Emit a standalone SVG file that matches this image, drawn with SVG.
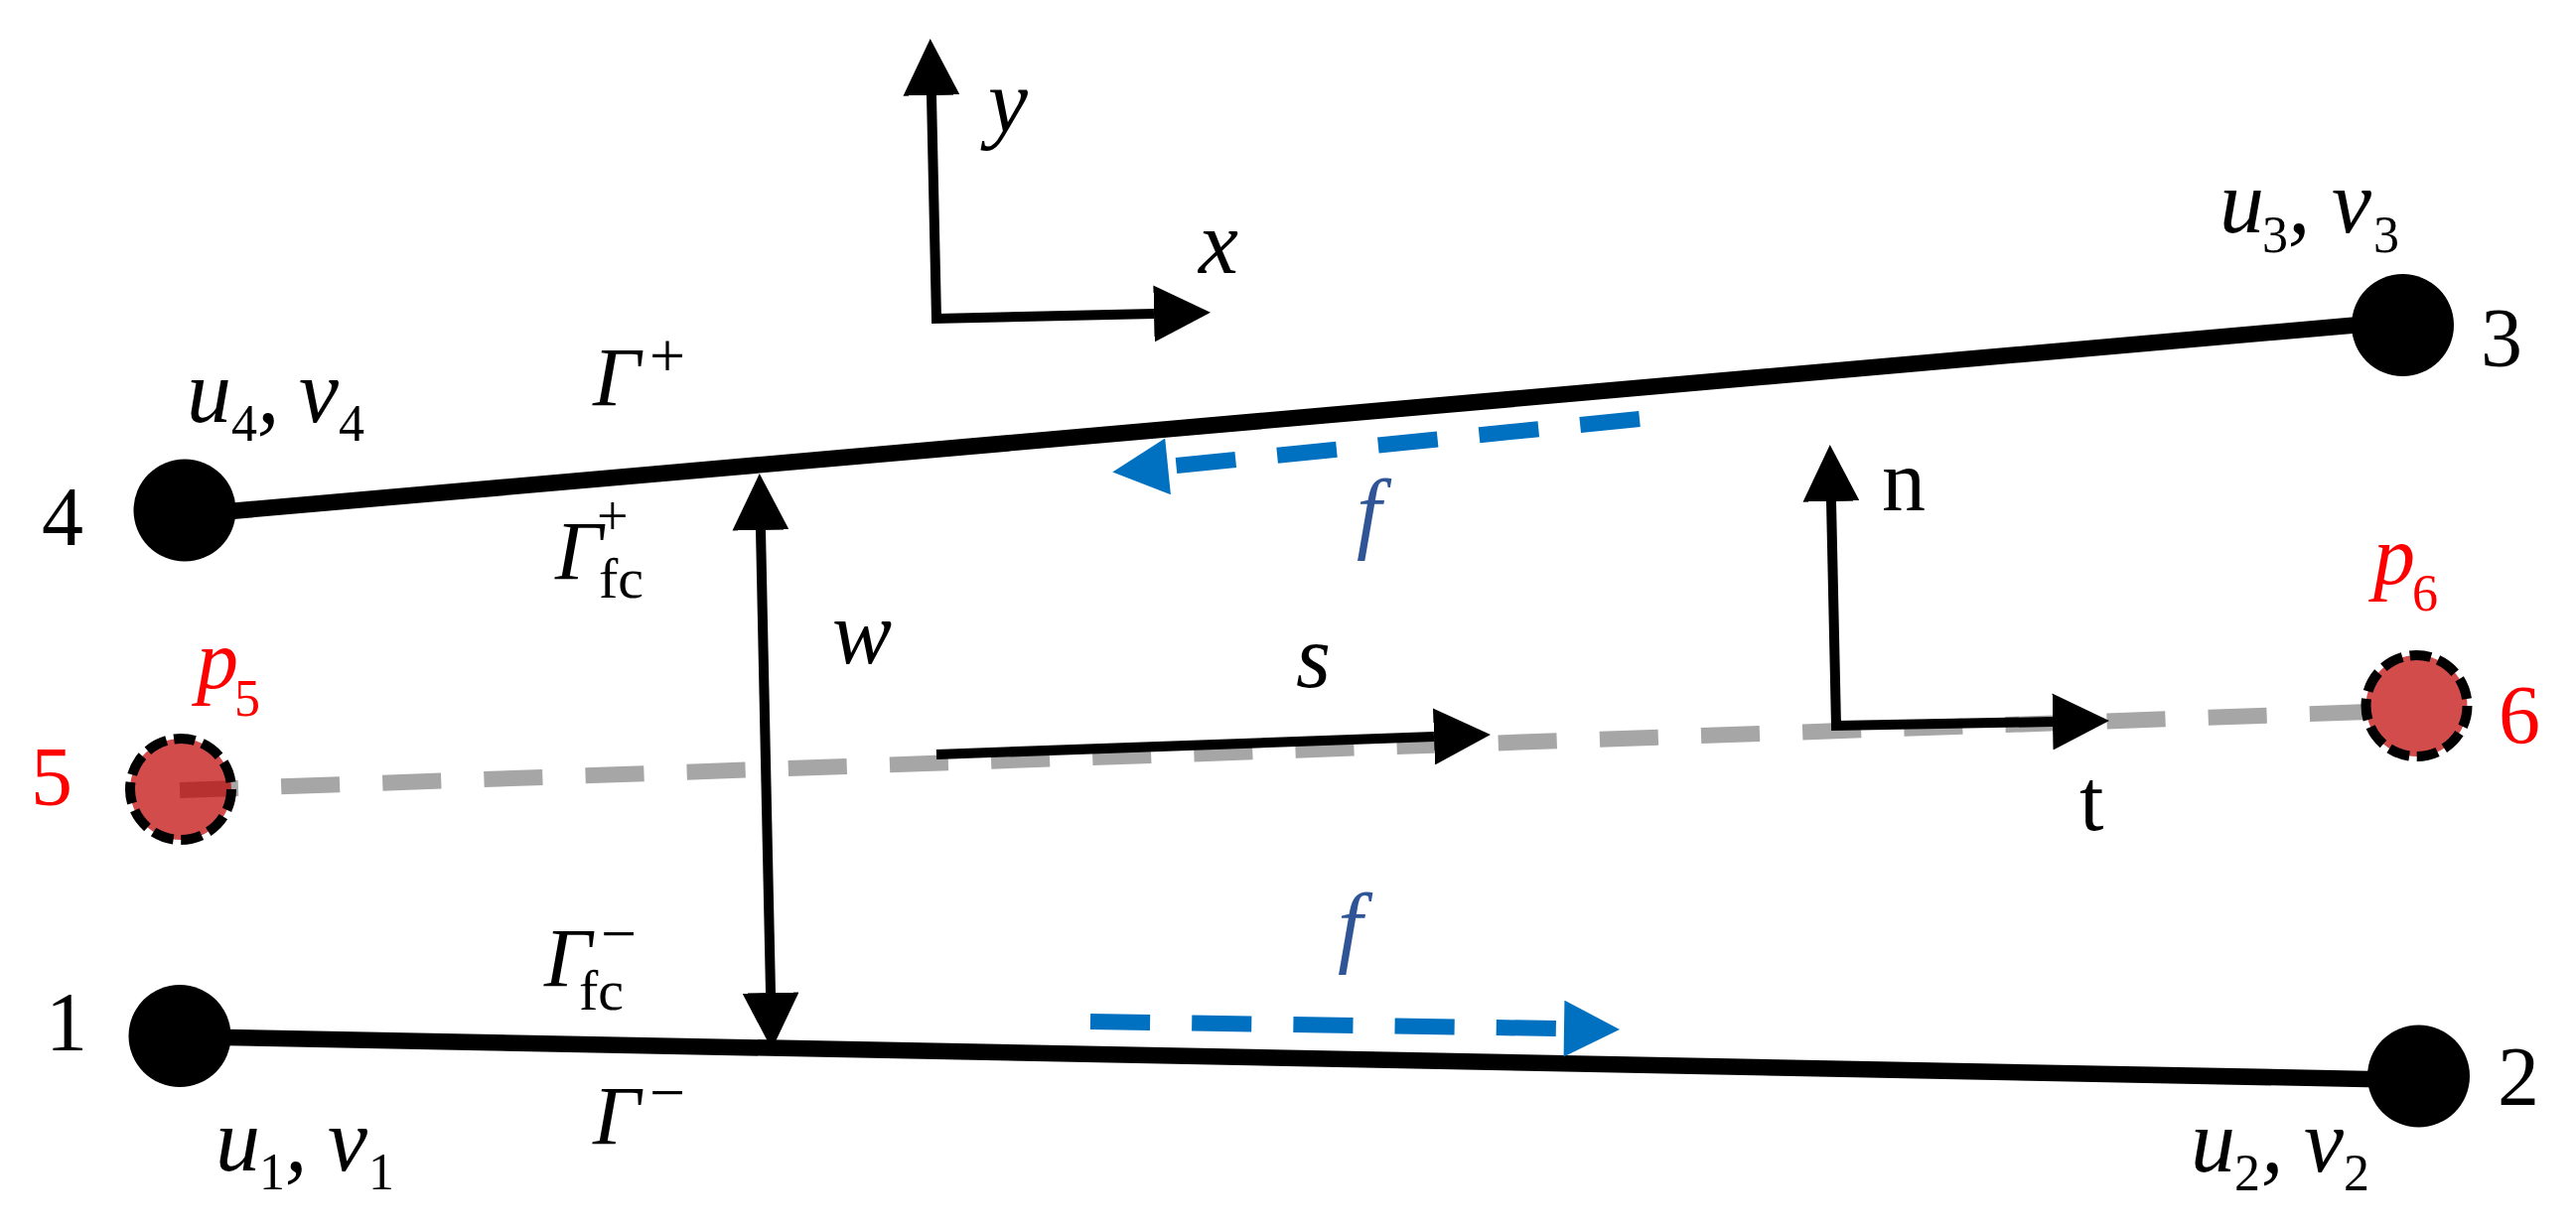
<svg xmlns="http://www.w3.org/2000/svg" width="2594" height="1240" viewBox="0 0 2594 1240">
<style>
text{font-family:"Liberation Serif","Times New Roman",serif;fill:#000}
.num{font-size:84px}
.num2{font-size:88px}
.it{font-size:90px;font-style:italic}
.pp{font-size:84px;font-style:italic}
.gam{font-size:84px;font-style:italic}
.sub{font-size:52px}
.fc{font-size:58px}
.op{font-size:64px}
.op2{font-size:56px}
.red,.red text{fill:#f00}
.blue{fill:#2f5597}
.wire{fill:none;stroke:#000}
.edge{stroke-width:16.5}
.arr{stroke-width:10;stroke-linejoin:miter;marker-end:url(#bh);marker-start:url(#bh)}
.one{marker-start:none}
.grey{fill:none;stroke:#a6a6a6;stroke-width:16;stroke-dasharray:59 43.2}
.flow{fill:none;stroke:#0070c0;stroke-width:16;stroke-dasharray:60.1 42.1;marker-end:url(#fh)}
.dot{fill:#000}
.mid{fill:#c00000;fill-opacity:.7;stroke:#000;stroke-width:10;stroke-dasharray:21.5 7.63}
</style>
<defs>
<marker id="bh" markerUnits="userSpaceOnUse" viewBox="0 0 57 57" markerWidth="57" markerHeight="57" refX="0" refY="28.5" orient="auto-start-reverse"><path d="M0,0L57,28.5L0,57Z" fill="#000"/></marker>
<marker id="fh" markerUnits="userSpaceOnUse" viewBox="-8 0 65 57" markerWidth="65" markerHeight="57" refX="-8" refY="28.5" orient="auto"><path d="M0,0L56,28.5L0,57Z" fill="#0070c0"/></marker>
</defs>
<rect width="2594" height="1240" fill="#fff"/>
<g id="connectors">
<path class="grey" d="M181,796L2385,717"/>
<path class="wire edge" d="M200,517.8L2400,325"/>
<path class="wire edge" d="M200,1044.4L2420,1087.7"/>
<path class="wire arr" d="M766,534L776,1000"/>
<path class="wire arr one" d="M943,760L1444,742"/>
<path class="wire arr" d="M938,96L943,321L1162,316"/>
<path class="wire arr" d="M1844,505L1849,731L2067,727"/>
<path class="flow" d="M1651,422L1184,469"/>
<path class="flow" d="M1098,1029L1567,1036"/>
</g>
<g id="node1"><circle class="dot" cx="181" cy="1043.5" r="51.5"/><text class="num" x="46" y="1058">1</text>
<text><tspan class="it" x="217" y="1179">u</tspan><tspan class="sub" x="261" y="1198">1</tspan><tspan class="it" x="287" y="1179">,</tspan><tspan class="it" x="330" y="1179">v</tspan><tspan class="sub" x="371" y="1198">1</tspan></text></g>
<g id="node2"><circle class="dot" cx="2435.5" cy="1084" r="51.5"/><text class="num" x="2515" y="1113">2</text>
<text><tspan class="it" x="2206" y="1180">u</tspan><tspan class="sub" x="2250" y="1199">2</tspan><tspan class="it" x="2277" y="1180">,</tspan><tspan class="it" x="2320" y="1180">v</tspan><tspan class="sub" x="2360" y="1199">2</tspan></text></g>
<g id="node3"><circle class="dot" cx="2419.5" cy="327.5" r="51.5"/><text class="num" x="2498" y="369">3</text>
<text><tspan class="it" x="2235" y="234">u</tspan><tspan class="sub" x="2278" y="254">3</tspan><tspan class="it" x="2304" y="234">,</tspan><tspan class="it" x="2348" y="234">v</tspan><tspan class="sub" x="2390" y="254">3</tspan></text></g>
<g id="node4"><circle class="dot" cx="186" cy="514" r="51.5"/><text class="num" x="42" y="549">4</text>
<text><tspan class="it" x="188" y="425">u</tspan><tspan class="sub" x="233" y="444">4</tspan><tspan class="it" x="259" y="425">,</tspan><tspan class="it" x="301" y="425">v</tspan><tspan class="sub" x="341" y="444">4</tspan></text></g>
<g id="node5" class="red"><circle class="mid" cx="182" cy="795" r="51"/><text class="num" x="31" y="811">5</text>
<text><tspan class="pp" x="198" y="693">p</tspan><tspan class="sub" x="236" y="721">5</tspan></text></g>
<g id="node6" class="red"><circle class="mid" cx="2433.5" cy="711" r="51"/><text class="num" x="2516" y="749">6</text>
<text><tspan class="pp" x="2390" y="588">p</tspan><tspan class="sub" x="2429" y="615">6</tspan></text></g>
<g id="labels">
<text class="it" x="995" y="133">y</text>
<text class="it" x="1207" y="275">x</text>
<text class="num2" x="1895" y="514">n</text>
<text class="num2" x="2094" y="836">t</text>
<text class="it" x="838" y="668">w</text>
<text class="it" x="1305" y="692">s</text>
<text class="it blue" x="1366" y="546">f</text>
<text class="it blue" x="1347" y="963">f</text>
<text><tspan class="gam" x="597" y="409">Γ</tspan><tspan class="op" x="654" y="380">+</tspan></text>
<text><tspan class="gam" x="559" y="584">Γ</tspan><tspan class="op2" x="601" y="539">+</tspan><tspan class="fc" x="603" y="602">fc</tspan></text>
<text><tspan class="gam" x="548" y="994">Γ</tspan><tspan class="op" x="605" y="962">−</tspan><tspan class="fc" x="583" y="1017">fc</tspan></text>
<text><tspan class="gam" x="597" y="1153">Γ</tspan><tspan class="op" x="654" y="1122">−</tspan></text>
</g>
</svg>
